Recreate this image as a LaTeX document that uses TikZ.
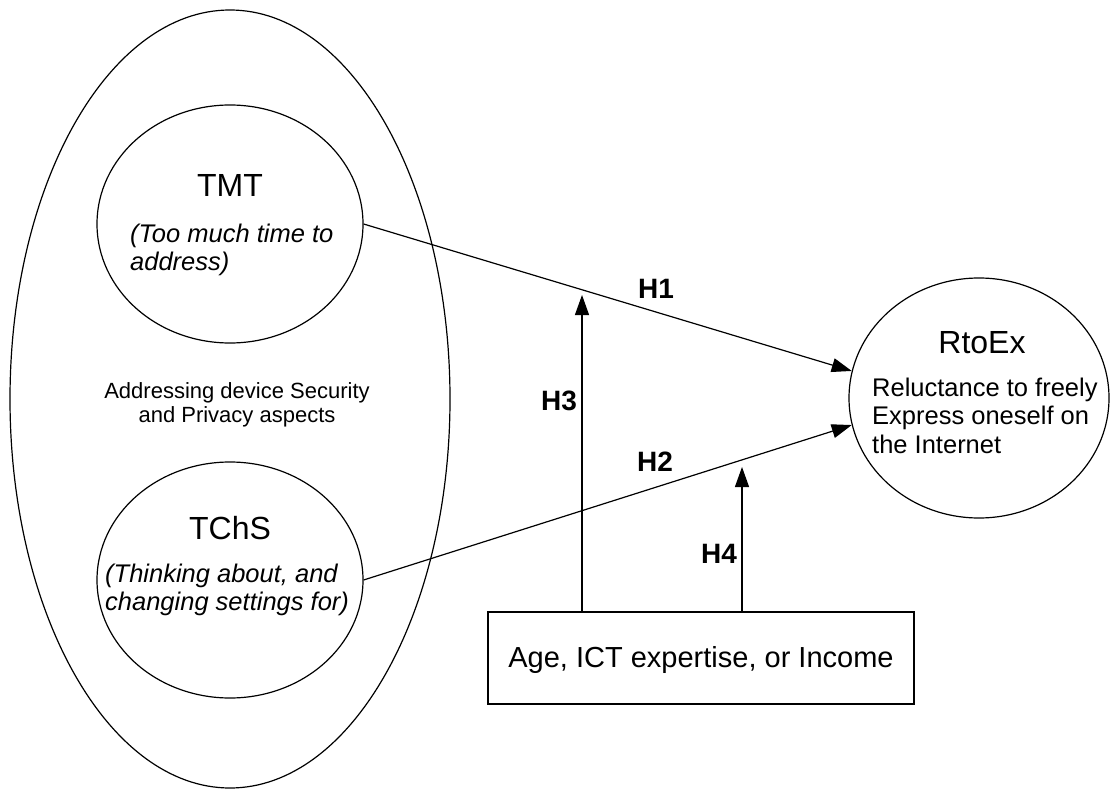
\documentclass[tikz,border=0pt]{standalone}
\usepackage{fontspec}
\setmainfont{Liberation Sans}
\usetikzlibrary{shapes.geometric,arrows.meta}
\begin{document}
\begin{tikzpicture}[x=1pt,y=-1pt,
  outline/.style={draw=black, line width=1.2pt},
  oval/.style={outline, ellipse, inner sep=0pt},
  link/.style={line width=1.2pt, -{Triangle[length=20pt,width=14pt]}},
  title/.style={inner sep=0pt, anchor=base, font=\fontsize{32}{36}\selectfont},
  body/.style={inner sep=0pt, align=left, anchor=base west},
  hyp/.style={inner sep=0pt, anchor=base, font=\fontsize{28}{32}\selectfont\bfseries}]
\useasboundingbox (0,0) rectangle (1110,794);

% constructs
\node[oval, minimum width=440pt, minimum height=778pt] (area) at (230,399) {};
\node[oval, minimum width=266pt, minimum height=238pt] (tmt) at (230,224) {};
\node[oval, minimum width=266pt, minimum height=236pt] (tchs) at (230,580) {};
\node[oval, minimum width=260pt, minimum height=240pt] (rtoex) at (979,398) {};
\node[outline, rectangle, minimum width=426pt, minimum height=92pt, inner sep=0pt] (mod) at (701,658) {};

% texts (multi-line blocks are placed by the baseline of their last line)
\node[title] (tmtname) at (230,196.5) {TMT};
\node[body, font=\fontsize{25.5}{28}\selectfont\itshape] (tmtdesc) at (130,270)
  {(Too much time to\\address)};
\node[inner sep=0pt, anchor=base, align=center, font=\fontsize{22}{24}\selectfont] (areatext) at (237,422)
  {Addressing device Security\\and Privacy aspects};
\node[title] (tchsname) at (230,539.5) {TChS};
\node[body, font=\fontsize{25.5}{28}\selectfont\itshape] (tchsdesc) at (105,610)
  {(Thinking about, and\\changing settings for)};
\node[title] (rtoexname) at (982,353.5) {RtoEx};
\node[body, font=\fontsize{25.5}{28.5}\selectfont] (rtoexdesc) at (872,453)
  {Reluctance to freely\\Express oneself on\\the Internet};
\node[inner sep=0pt, anchor=base, font=\fontsize{29}{33}\selectfont] (modtext) at (701,667)
  {Age, ICT expertise, or Income};

% hypotheses
\coordinate (h3tip) at (582,295);
\coordinate (h4tip) at (742,467);
\draw[link] (tmt.east) -- (rtoex.168.5);
\draw[link] (tchs.east) -- (rtoex.192);
\draw[link] (mod.north -| h3tip) -- (h3tip);
\draw[link] (mod.north -| h4tip) -- (h4tip);

\node[hyp] (h1) at (656,298) {H1};
\node[hyp] (h2) at (655,471) {H2};
\node[hyp] (h3) at (559,410) {H3};
\node[hyp] (h4) at (719,563) {H4};
\end{tikzpicture}
\end{document}
